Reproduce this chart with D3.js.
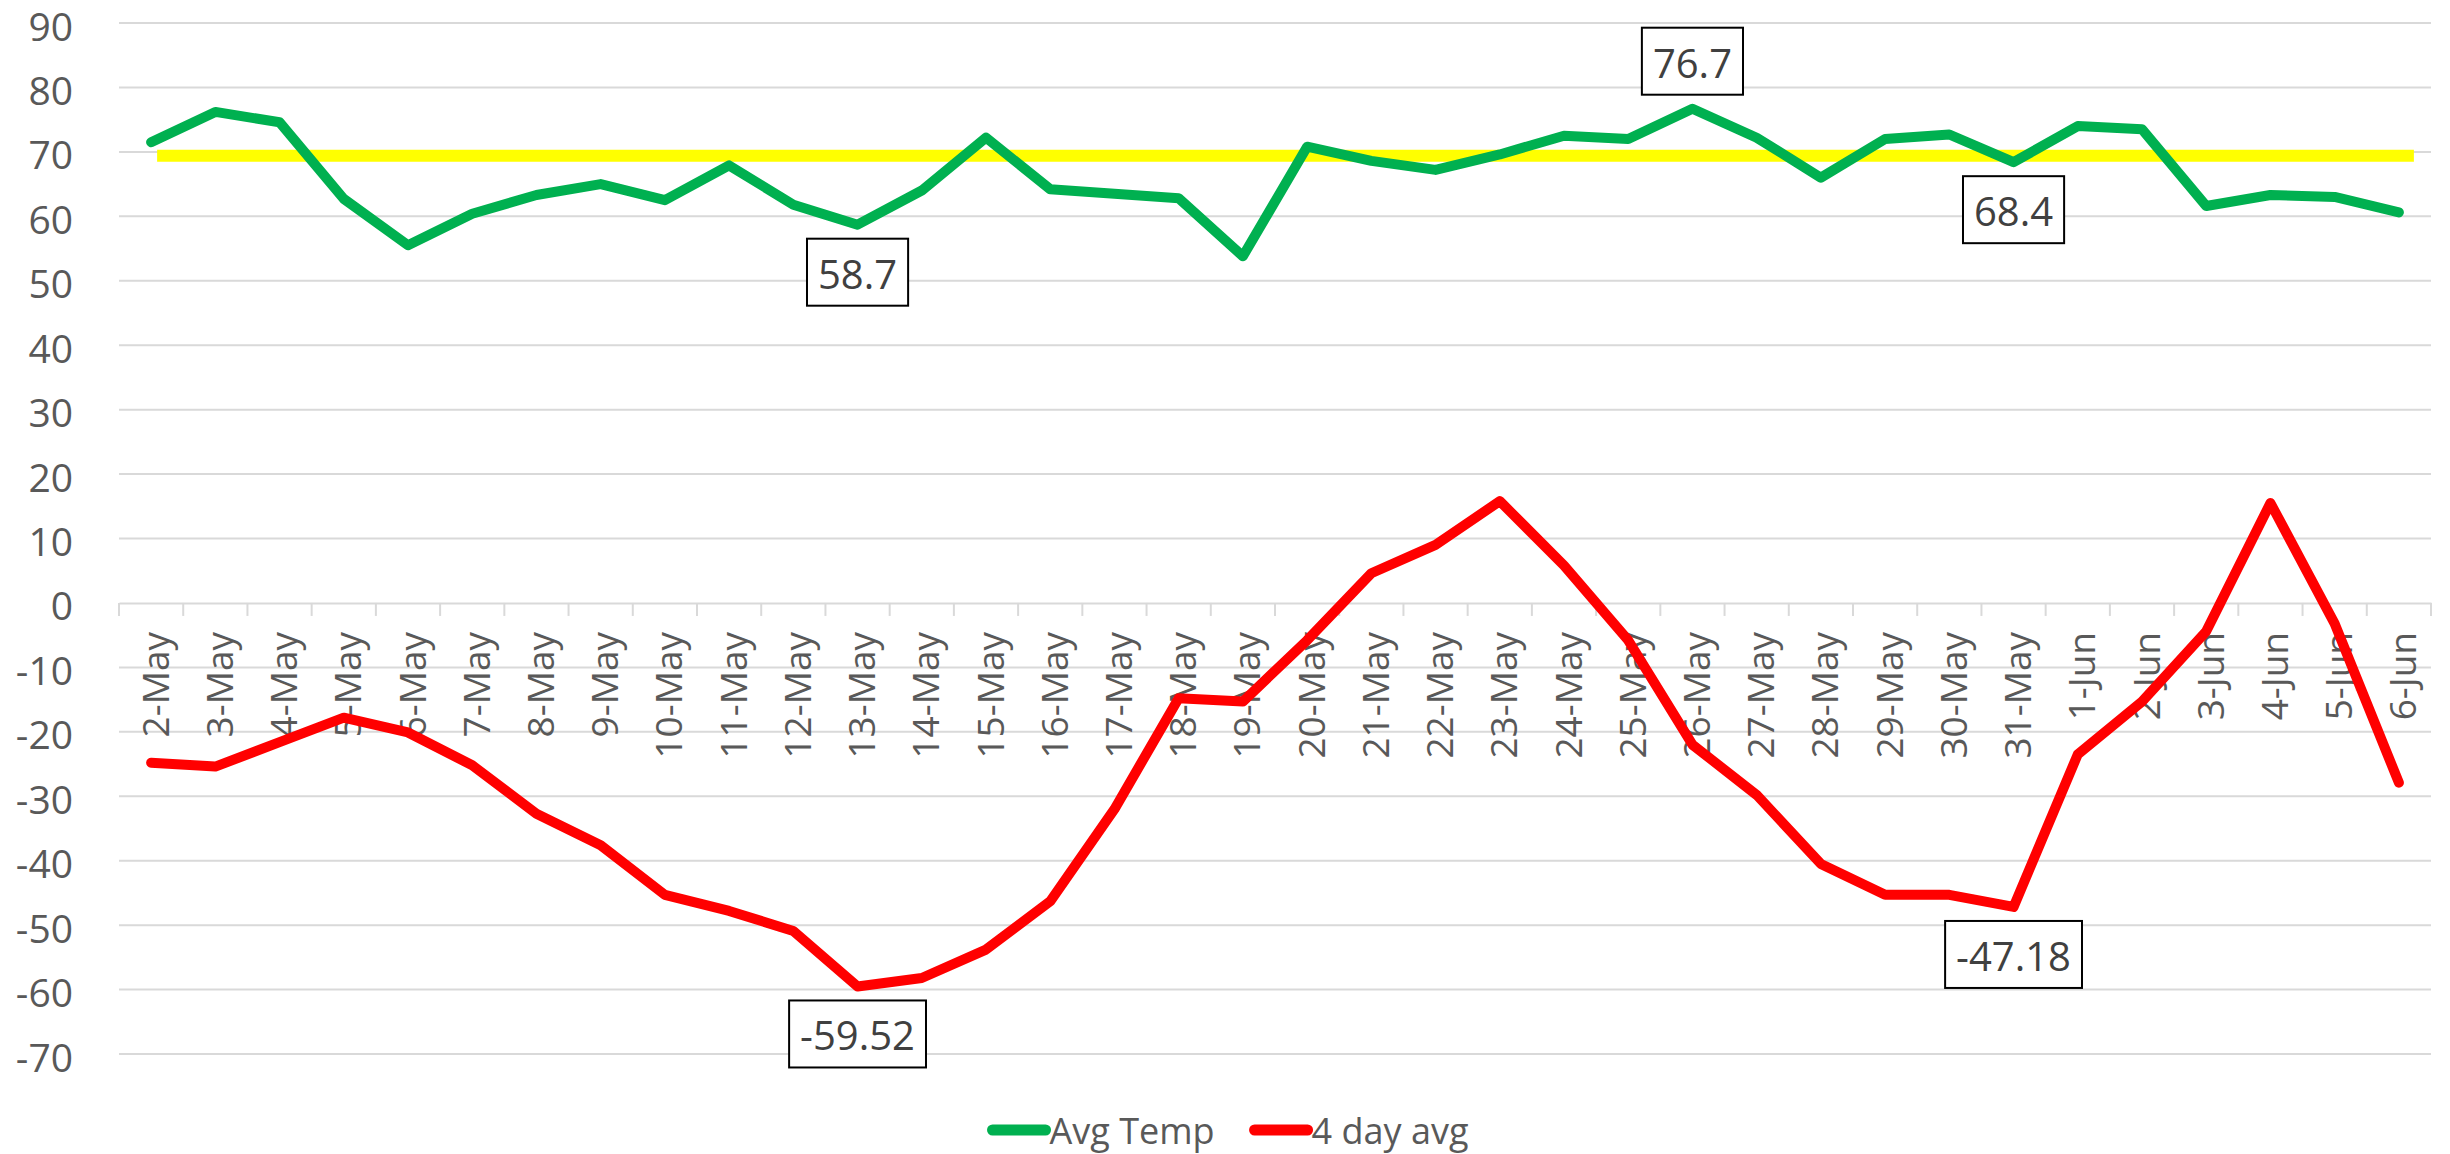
<!DOCTYPE html>
<html>
<head>
<meta charset="utf-8">
<script src="https://d3js.org/d3.v7.min.js"></script>
<style>
    body { margin: 0; background: white; }
    text { font-family: "Open Sans", sans-serif; fill: #595959; }
    .grid line { stroke: #d9d9d9; stroke-width: 2px; }
    .series { fill: none; stroke-width: 10px; stroke-linecap: round; stroke-linejoin: round; }
    .tag rect { fill: white; stroke: #000; stroke-width: 2px; }
    .tag text { fill: #404040; font-size: 40px; text-anchor: middle; dominant-baseline: central; }
</style>
</head>
<body>
<script>
    // categories
    var days = ["2-May","3-May","4-May","5-May","6-May","7-May","8-May","9-May","10-May","11-May",
        "12-May","13-May","14-May","15-May","16-May","17-May","18-May","19-May","20-May","21-May",
        "22-May","23-May","24-May","25-May","26-May","27-May","28-May","29-May","30-May","31-May",
        "1-Jun","2-Jun","3-Jun","4-Jun","5-Jun","6-Jun"];

    // Avg Temp
    var avgTemp = [71.5, 76.2, 74.6, 62.7, 55.5, 60.4, 63.3, 65.0, 62.5, 67.9,
        61.8, 58.7, 64.0, 72.2, 64.2, 63.5, 62.8, 53.8, 70.8, 68.6,
        67.2, 69.6, 72.5, 72.0, 76.7, 72.2, 66.0, 72.0, 72.7, 68.4,
        74.0, 73.5, 61.6, 63.3, 63.0, 60.6];

    // 4 day avg
    var fourDay = [-24.8, -25.4, -21.6, -17.8, -20.1, -25.2, -32.7, -37.6, -45.3, -47.8,
        -50.9, -59.52, -58.2, -53.8, -46.3, -32.0, -14.8, -15.3, -5.8, 4.6,
        9.0, 15.8, 5.8, -5.8, -22.0, -29.8, -40.5, -45.3, -45.3, -47.18,
        -23.5, -15.3, -4.4, 15.5, -3.2, -27.9];

    // the yellow reference line
    var refLevel = 69.4;

    var yTicks = [90, 80, 70, 60, 50, 40, 30, 20, 10, 0, -10, -20, -30, -40, -50, -60, -70];

    // boxed labels: which series, which day, above or below
    var tags = [
        { series: "avg", day: "13-May", side: "below" },
        { series: "avg", day: "26-May", side: "above" },
        { series: "avg", day: "31-May", side: "below" },
        { series: "four", day: "13-May", side: "below" },
        { series: "four", day: "31-May", side: "below" }
    ];

    var W = 2450, H = 1154;
    var plotL = 119, plotR = 2431, plotT = 23, plotB = 1054;

    var svg = d3.select("body").append("svg").attr("width", W).attr("height", H);

    var x = d3.scaleBand().domain(days).range([plotL, plotR]);
    var y = d3.scaleLinear().domain([-70, 90]).range([plotB, plotT]);
    var cx = function (d) { return x(d) + x.bandwidth() / 2; };

    // horizontal gridlines
    svg.append("g").attr("class", "grid").selectAll("line")
        .data(yTicks.filter(function (t) { return t != 0; }))
        .enter().append("line")
        .attr("x1", plotL).attr("x2", plotR)
        .attr("y1", function (d) { return y(d); })
        .attr("y2", function (d) { return y(d); });

    // y axis labels
    svg.append("g").selectAll("text")
        .data(yTicks).enter().append("text")
        .attr("x", 73)
        .attr("y", function (d) { return y(d) + 2; })
        .attr("text-anchor", "end")
        .attr("dominant-baseline", "central")
        .style("font-size", "39px")
        .text(function (d) { return d; });

    // category axis at zero
    var xAxis = svg.append("g")
        .attr("transform", "translate(0," + y(0) + ")")
        .call(d3.axisBottom(x).tickSize(0).tickFormat(""));
    xAxis.select(".domain").attr("stroke", "#d9d9d9").attr("stroke-width", 2);
    var edges = days.map(function (d) { return x(d); }).concat([plotR]);
    xAxis.selectAll(".edge").data(edges).enter().append("line")
        .attr("x1", function (d) { return d; }).attr("x2", function (d) { return d; })
        .attr("y1", 0).attr("y2", 13)
        .attr("stroke", "#d9d9d9").attr("stroke-width", 2);

    xAxis.selectAll(".lbl").data(days).enter().append("text")
        .attr("transform", function (d) {
            return "translate(" + (cx(d) + 3) + ",29) rotate(-90)";
        })
        .attr("text-anchor", "end")
        .attr("dominant-baseline", "central")
        .style("font-size", "37px")
        .text(function (d) { return d; });

    // yellow reference line
    svg.append("line")
        .attr("x1", cx(days[0]) + 6).attr("x2", cx(days[days.length - 1]) + 15)
        .attr("y1", y(refLevel)).attr("y2", y(refLevel))
        .attr("stroke", "#ffff00").attr("stroke-width", 12);

    var line = d3.line()
        .x(function (d, i) { return cx(days[i]); })
        .y(function (d) { return y(d); });

    svg.append("path").attr("class", "series").attr("d", line(avgTemp)).attr("stroke", "#00b050");
    svg.append("path").attr("class", "series").attr("d", line(fourDay)).attr("stroke", "#ff0000");

    // boxed value labels
    tags.forEach(function (t) {
        var i = days.indexOf(t.day);
        var v = t.series == "avg" ? avgTemp[i] : fourDay[i];
        var px = cx(t.day), py = y(v);
        var g = svg.append("g").attr("class", "tag");
        var txt = g.append("text").text(String(v));
        var bw = txt.node().getComputedTextLength() + 22, bh = 67;
        var by = t.side == "above" ? py - 14 - bh : py + 14;
        g.insert("rect", "text")
            .attr("x", px - bw / 2).attr("y", by)
            .attr("width", bw).attr("height", bh);
        txt.attr("x", px).attr("y", by + bh / 2 + 1);
    });

    // legend
    var legendItems = [
        { name: "Avg Temp", color: "#00b050" },
        { name: "4 day avg", color: "#ff0000" }
    ];
    var leg = svg.append("g");
    var lx = 0;
    legendItems.forEach(function (it) {
        var g = leg.append("g").attr("transform", "translate(" + lx + ",0)");
        g.append("line").attr("x1", 5).attr("x2", 58).attr("y1", 0).attr("y2", 0)
            .attr("stroke", it.color).attr("stroke-width", 11).attr("stroke-linecap", "round");
        var t = g.append("text").attr("x", 62).attr("y", 0)
            .attr("dominant-baseline", "central")
            .style("font-size", "36px").text(it.name);
        lx += 62 + t.node().getComputedTextLength() + 35;
    });
    var legW = lx - 35;
    leg.attr("transform", "translate(" + ((W - legW) / 2 + 3) + ",1130)");
</script>
</body>
</html>
